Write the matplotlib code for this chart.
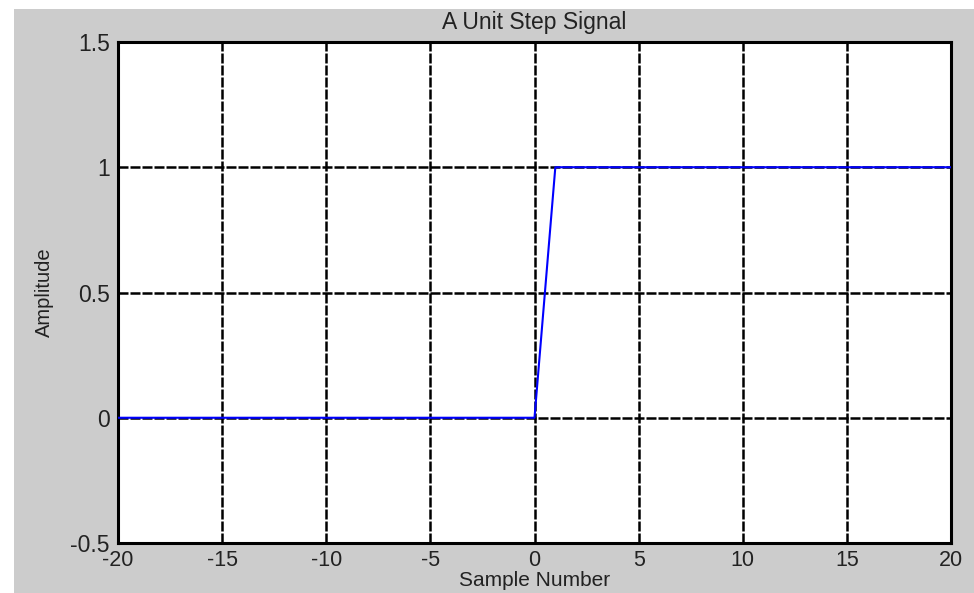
import numpy as np
import matplotlib
matplotlib.use('Agg')
import matplotlib.pyplot as plt
from matplotlib.patches import Rectangle

# Dati del segnale a gradino unitario
n = list(range(-20, 21))
u = [0] * 21 + [1] * 20
x_ticks = [-20, -15, -10, -5, 0, 5, 10, 15, 20]
y_ticks = [-0.5, 0, 0.5, 1, 1.5]

plt.rcParams['font.family'] = ['Liberation Sans', 'DejaVu Sans']
plt.rcParams['axes.unicode_minus'] = False

fig = plt.figure(figsize=(9.74, 5.93), dpi=100, facecolor='white')
# sfondo grigio stile MATLAB
fig.add_artist(Rectangle((14 / 974, 0), 1, 1 - 9 / 593, transform=fig.transFigure,
                         facecolor='#cccccc', edgecolor='none', zorder=-10))

ax = fig.add_axes([118 / 974, 50 / 593, (951 - 118) / 974, (543 - 42) / 593])
ax.set_facecolor('white')
ax.plot(n, u, color='#0000ff', linewidth=1.5, zorder=3)

ax.set_xlim(-20, 20)
ax.set_ylim(-0.5, 1.5)
ax.set_xticks(x_ticks)
ax.set_yticks(y_ticks)
ax.set_yticklabels(['-0.5', '0', '0.5', '1', '1.5'])
ax.grid(True, color='black', linewidth=1.8, linestyle=(0, (4, 0.8)))
ax.set_axisbelow(True)
for s in ax.spines.values():
    s.set_linewidth(2.2)
    s.set_color('black')

ax.tick_params(axis='both', length=0, labelsize=16.5, colors='#222222')
ax.tick_params(axis='x', pad=5, labelsize=15.5)
ax.tick_params(axis='y', pad=6)

ax.set_title('A Unit Step Signal', fontsize=16.5, color='#222222', pad=9)
ax.set_xlabel('Sample Number', fontsize=15, color='#222222', labelpad=0)
ax.set_ylabel('Amplitude', fontsize=14.5, color='#222222', labelpad=12)

plt.savefig('out.png', dpi=100, facecolor=fig.get_facecolor())
